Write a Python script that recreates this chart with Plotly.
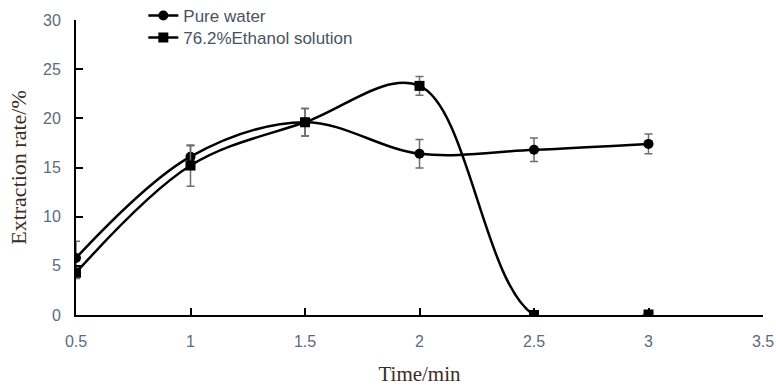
import plotly.graph_objects as go

time_min = [0.5, 1, 1.5, 2, 2.5, 3]
water = [5.8, 16.1, 19.6, 16.4, 16.8, 17.4]
water_err = [1.7, 1.1, 1.4, 1.45, 1.2, 1.0]
ethanol = [4.3, 15.2, 19.6, 23.3, 0.0, 0.05]
ethanol_err = [0.6, 2.1, 1.4, 0.95, 0.0, 0.0]

tick_font = dict(family="Liberation Sans, Arial", size=16, color="#5b6b7e")
title_font = dict(family="Liberation Serif, Times New Roman", size=21, color="#3d2b1f")
legend_font = dict(family="Liberation Sans, Arial", size=17, color="#4a5262")

fig = go.Figure()
fig.add_trace(go.Scatter(
    x=time_min, y=water, name="Pure water", mode="lines+markers", legend="legend",
    line=dict(color="black", width=2.5, shape="spline", smoothing=1.0),
    marker=dict(symbol="circle", size=10, color="black"),
    error_y=dict(type="data", array=water_err, color="#6e6e6e", thickness=1.5, width=4),
))
fig.add_trace(go.Scatter(
    x=time_min, y=ethanol, name="76.2%Ethanol solution", mode="lines+markers", legend="legend2",
    line=dict(color="black", width=2.5, shape="spline", smoothing=1.0),
    marker=dict(symbol="square", size=10, color="black"),
    error_y=dict(type="data", array=ethanol_err, color="#6e6e6e", thickness=1.5, width=4),
))

fig.update_layout(
    width=776, height=387,
    margin=dict(l=76, r=13, t=20, b=72, autoexpand=False),
    plot_bgcolor="white", paper_bgcolor="white",
    showlegend=True,
    legend=dict(x=0.098, y=1.0136, xanchor="left", yanchor="middle",
                bgcolor="rgba(0,0,0,0)", font=legend_font),
    legend2=dict(x=0.098, y=0.939, xanchor="left", yanchor="middle",
                 bgcolor="rgba(0,0,0,0)", font=legend_font),
    xaxis=dict(range=[0.5, 3.5], tickvals=[0.5, 1, 1.5, 2, 2.5, 3, 3.5],
               ticktext=["0.5", "1", "1.5", "2", "2.5", "3", "3.5"],
               showline=True, linecolor="black", linewidth=2,
               ticks="inside", ticklen=7, tickwidth=2, tickcolor="black",
               showgrid=False, zeroline=False, tickfont=tick_font,
               ticklabelstandoff=11, automargin=False,
               title=dict(text="Time/min", font=title_font, standoff=17)),
    yaxis=dict(range=[0, 30], tickvals=[0, 5, 10, 15, 20, 25, 30],
               showline=True, linecolor="black", linewidth=2,
               ticks="inside", ticklen=7, tickwidth=2, tickcolor="black",
               showgrid=False, zeroline=False, tickfont=tick_font,
               ticklabelstandoff=10, automargin=False,
               title=dict(text="Extraction rate/%", font=dict(family="Liberation Serif, Times New Roman", size=22, color="#3d2b1f"), standoff=10)),
)

fig.write_html("out.html", config={"displayModeBar": False},
               post_script="document.body.style.margin='0';document.body.style.overflow='hidden';")
